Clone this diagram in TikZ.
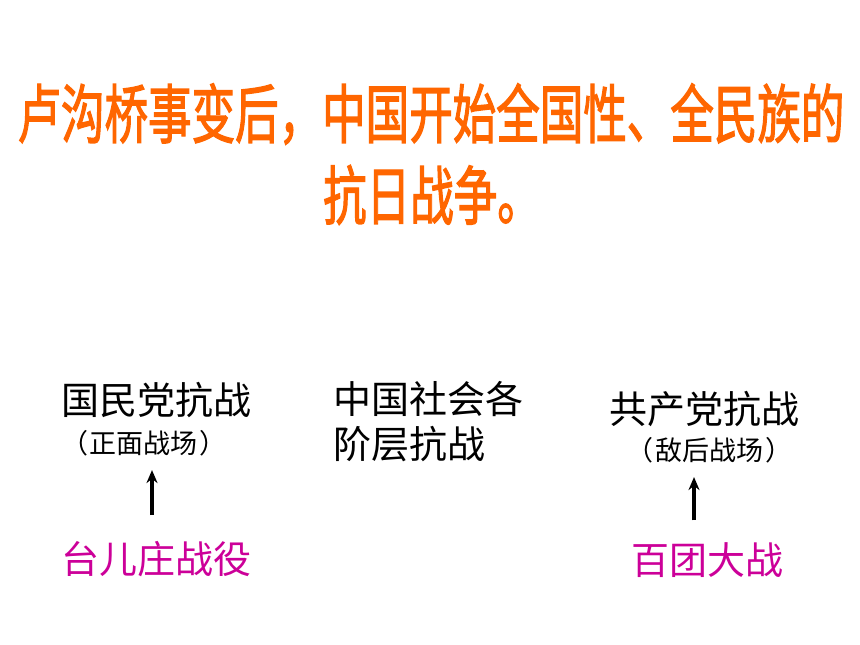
\documentclass[tikz,border=0pt]{standalone}
\usepackage{xcolor}
\usepackage{fontspec}
\usepackage{tikz}
\usetikzlibrary{arrows.meta,positioning,calc}
\newfontfamily\cjk{Noto Sans CJK SC}
\newfontfamily\cjktitle[FakeBold=2.2]{Noto Sans CJK SC}
\definecolor{titleorange}{RGB}{255,102,0}
\definecolor{battlepink}{RGB}{204,0,153}
\tikzset{
  big/.style={inner sep=0pt,font=\cjk\fontsize{38}{45}\selectfont},
  small/.style={inner sep=0pt,font=\cjk\fontsize{27}{30}\selectfont},
  battle/.style={big,text=battlepink},
  headline/.style={inner sep=0pt,text=titleorange,font=\cjktitle\fontsize{64}{70}\selectfont},
  uparrow/.style={-{Stealth[length=13pt,width=11pt]},line width=3.2pt}
}
\begin{document}
\begin{tikzpicture}[x=1pt,y=-1pt]
\useasboundingbox[fill=white] (0,0) rectangle (860,645);
% Title
\node[headline] (title1) at (431,114) {\scalebox{0.68}[1]{卢沟桥事变后，中国开始全国性、全民族的}};
\node[headline] (title2) at (432,195) {\scalebox{0.68}[1]{抗日战争。}};
% Left column
\node[big] (gmd) at (156,400) {国民党抗战};
\node[small] (zm) at (144,443) {（\kern2pt 正面战场\kern2pt ）};
\node[battle] (tez) at (156,559) {台儿庄战役};
% Middle column
\node[big,anchor=west] (zg1) at (333,399) {中国社会各};
\node[big,anchor=west] (zg2) at (333,444) {阶层抗战};
% Right column
\node[big] (gcd) at (704,409) {共产党抗战};
\node[small] (dh) at (709,450) {（\kern2pt 敌后战场\kern2pt ）};
\node[battle] (btd) at (707,560) {百团大战};
% Arrows
\draw[uparrow,shorten <=26pt,shorten >=14pt] ($(tez.north)+(-4,0)$) -- ($(zm.south)+(8,0)$);
\draw[uparrow,shorten <=22pt,shorten >=14pt] ($(btd.north)+(-13,0)$) -- ($(dh.south)+(-15,0)$);
\end{tikzpicture}
\end{document}
